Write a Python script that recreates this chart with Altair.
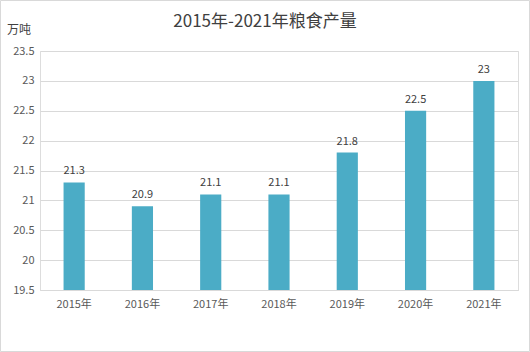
import altair as alt
import pandas as pd

years = ["2015年", "2016年", "2017年", "2018年", "2019年", "2020年", "2021年"]
values = [21.3, 20.9, 21.1, 21.1, 21.8, 22.5, 23.0]
labels = ["21.3", "20.9", "21.1", "21.1", "21.8", "22.5", "23"]
y_ticks = [19.5, 20, 20.5, 21, 21.5, 22, 22.5, 23, 23.5]

df = pd.DataFrame({"year": years, "value": values, "label": labels})

FONT = "Noto Sans CJK SC"
W, H = 478, 239

x = alt.X("year:N", sort=years, title=None,
          scale=alt.Scale(paddingInner=0.69, paddingOuter=0.345),
          axis=alt.Axis(labelAngle=0, ticks=False, domainColor="#d9d9d9",
                        labelColor="#595959", labelFont=FONT, labelFontSize=11,
                        labelPadding=8))
y = alt.Y("value:Q", title=None,
          scale=alt.Scale(domain=[19.5, 23.5], zero=False, nice=False),
          axis=alt.Axis(values=y_ticks, tickCount=20, ticks=False, domain=False,
                        labelOverlap=False,
                        gridColor="#d9d9d9", labelColor="#595959",
                        labelFont=FONT, labelFontSize=11, labelPadding=6,
                        labelExpr="format(datum.value, '~g')"))

base = alt.Chart(df)
bars = base.mark_bar(color="#4BACC6").encode(x=x, y=y, y2=alt.datum(19.5))
text = base.mark_text(baseline="bottom", dy=-6, font=FONT, fontSize=11,
                      color="#404040").encode(
    x=alt.X("year:N", sort=years), y="value:Q", text="label:N")

one = pd.DataFrame({"a": [0]})
border = alt.Chart(one).mark_rect(
    fill=None, stroke="#d9d9d9", strokeWidth=1).encode(
    x=alt.value(-39.5), x2=alt.value(W + 11.5), y=alt.value(-50.5), y2=alt.value(H + 61.5))

unit = alt.Chart(one).mark_text(
    text="万吨", font=FONT, fontSize=12, color="#404040", align="left",
    baseline="middle").encode(x=alt.value(-33), y=alt.value(-21))

title = alt.Chart(one).mark_text(
    text="2015年-2021年粮食产量", font=FONT, fontSize=17, color="#404040",
    align="center", baseline="middle").encode(x=alt.value(225), y=alt.value(-29))

chart = alt.layer(bars, text, unit, title, border).properties(
    width=W, height=H,
    padding={"left": 40, "top": 51, "right": 12, "bottom": 62},
    autosize=alt.AutoSizeParams(type="none"),
).configure_view(stroke=None).configure(background="white")

chart.save("out.html", embed_options={"renderer": "svg", "actions": False})
